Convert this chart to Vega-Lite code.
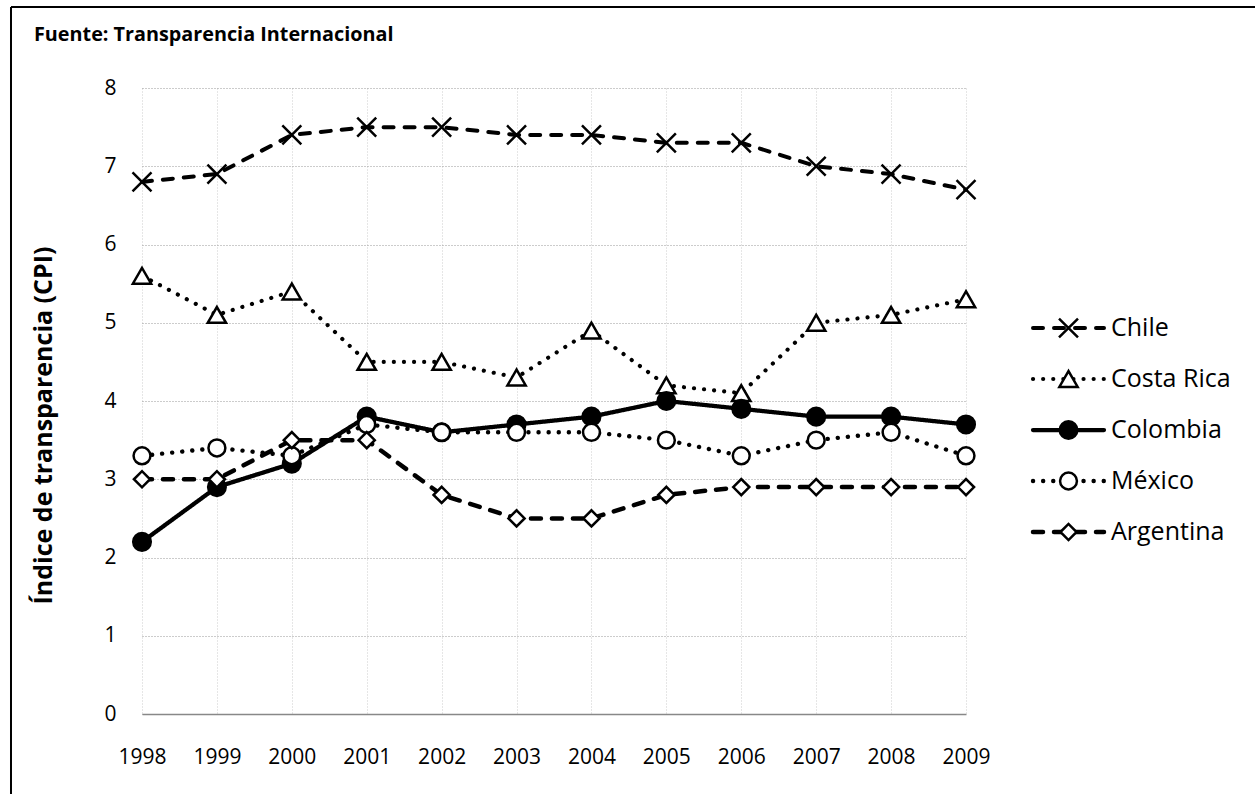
{
  "$schema": "https://vega.github.io/schema/vega-lite/v6.json",
  "padding": {"left": 9, "top": 6, "right": 0, "bottom": 0},
  "autosize": {"type": "pad"},
  "background": "white",
  "config": {
    "font": "Open Sans",
    "view": {"stroke": null},
    "axis": {"labelFont": "Open Sans", "labelFontSize": 21, "labelColor": "#000", "ticks": false, "tickSize": 0, "titleFont": "Open Sans", "titleColor": "#000", "labelFlush": false, "labelOverlap": false},
    "axisX": {"gridColor": "#cccccc", "gridDash": [1, 2], "gridWidth": 1, "domainColor": "#888888", "domainWidth": 1.5, "labelPadding": 32},
    "axisY": {"gridColor": "#999999", "gridDash": [1, 2], "gridWidth": 1, "domain": false, "labelPadding": 26}
  },
  "datasets": {
    "cpi": [
      {"year": 1998, "country": "Chile", "cpi": 6.8}, {"year": 1999, "country": "Chile", "cpi": 6.9}, {"year": 2000, "country": "Chile", "cpi": 7.4}, {"year": 2001, "country": "Chile", "cpi": 7.5}, {"year": 2002, "country": "Chile", "cpi": 7.5}, {"year": 2003, "country": "Chile", "cpi": 7.4}, {"year": 2004, "country": "Chile", "cpi": 7.4}, {"year": 2005, "country": "Chile", "cpi": 7.3}, {"year": 2006, "country": "Chile", "cpi": 7.3}, {"year": 2007, "country": "Chile", "cpi": 7.0}, {"year": 2008, "country": "Chile", "cpi": 6.9}, {"year": 2009, "country": "Chile", "cpi": 6.7},
      {"year": 1998, "country": "Costa Rica", "cpi": 5.6}, {"year": 1999, "country": "Costa Rica", "cpi": 5.1}, {"year": 2000, "country": "Costa Rica", "cpi": 5.4}, {"year": 2001, "country": "Costa Rica", "cpi": 4.5}, {"year": 2002, "country": "Costa Rica", "cpi": 4.5}, {"year": 2003, "country": "Costa Rica", "cpi": 4.3}, {"year": 2004, "country": "Costa Rica", "cpi": 4.9}, {"year": 2005, "country": "Costa Rica", "cpi": 4.2}, {"year": 2006, "country": "Costa Rica", "cpi": 4.1}, {"year": 2007, "country": "Costa Rica", "cpi": 5.0}, {"year": 2008, "country": "Costa Rica", "cpi": 5.1}, {"year": 2009, "country": "Costa Rica", "cpi": 5.3},
      {"year": 1998, "country": "Colombia", "cpi": 2.2}, {"year": 1999, "country": "Colombia", "cpi": 2.9}, {"year": 2000, "country": "Colombia", "cpi": 3.2}, {"year": 2001, "country": "Colombia", "cpi": 3.8}, {"year": 2002, "country": "Colombia", "cpi": 3.6}, {"year": 2003, "country": "Colombia", "cpi": 3.7}, {"year": 2004, "country": "Colombia", "cpi": 3.8}, {"year": 2005, "country": "Colombia", "cpi": 4.0}, {"year": 2006, "country": "Colombia", "cpi": 3.9}, {"year": 2007, "country": "Colombia", "cpi": 3.8}, {"year": 2008, "country": "Colombia", "cpi": 3.8}, {"year": 2009, "country": "Colombia", "cpi": 3.7},
      {"year": 1998, "country": "México", "cpi": 3.3}, {"year": 1999, "country": "México", "cpi": 3.4}, {"year": 2000, "country": "México", "cpi": 3.3}, {"year": 2001, "country": "México", "cpi": 3.7}, {"year": 2002, "country": "México", "cpi": 3.6}, {"year": 2003, "country": "México", "cpi": 3.6}, {"year": 2004, "country": "México", "cpi": 3.6}, {"year": 2005, "country": "México", "cpi": 3.5}, {"year": 2006, "country": "México", "cpi": 3.3}, {"year": 2007, "country": "México", "cpi": 3.5}, {"year": 2008, "country": "México", "cpi": 3.6}, {"year": 2009, "country": "México", "cpi": 3.3},
      {"year": 1998, "country": "Argentina", "cpi": 3.0}, {"year": 1999, "country": "Argentina", "cpi": 3.0}, {"year": 2000, "country": "Argentina", "cpi": 3.5}, {"year": 2001, "country": "Argentina", "cpi": 3.5}, {"year": 2002, "country": "Argentina", "cpi": 2.8}, {"year": 2003, "country": "Argentina", "cpi": 2.5}, {"year": 2004, "country": "Argentina", "cpi": 2.5}, {"year": 2005, "country": "Argentina", "cpi": 2.8}, {"year": 2006, "country": "Argentina", "cpi": 2.9}, {"year": 2007, "country": "Argentina", "cpi": 2.9}, {"year": 2008, "country": "Argentina", "cpi": 2.9}, {"year": 2009, "country": "Argentina", "cpi": 2.9}
    ]
  },
  "bounds": "flush",
  "spacing": 67,
  "hconcat": [
    {
      "width": 824,
      "height": 626,
      "title": {"text": "Fuente: Transparencia Internacional", "anchor": "start", "frame": "group", "dx": -108, "offset": -55, "baseline": "alphabetic", "font": "Open Sans", "fontSize": 19.8, "fontWeight": "bold", "color": "#000"},
      "layer": [
        {
          "data": {"values": [{}]},
          "mark": {"type": "rule", "stroke": "#000", "strokeWidth": 2},
          "encoding": {
            "x": {"datum": 1996.2512, "type": "quantitative", "scale": {"domain": [1998, 2009], "nice": false, "zero": false}, "title": null},
            "x2": {"datum": 2012.858},
            "y": {"datum": 9.0351, "type": "quantitative", "scale": {"domain": [0, 8], "nice": false}, "title": null}
          }
        },
        {
          "data": {"values": [{}]},
          "mark": {"type": "rule", "stroke": "#000", "strokeWidth": 2},
          "encoding": {
            "x": {"datum": 1996.2512, "type": "quantitative", "scale": {"domain": [1998, 2009], "nice": false, "zero": false}, "title": null},
            "y": {"datum": 9.0351, "type": "quantitative", "scale": {"domain": [0, 8], "nice": false}, "title": null},
            "y2": {"datum": -1.0224}
          }
        },
        {
          "data": {"name": "cpi"},
          "mark": {"type": "line", "strokeCap": "round", "strokeJoin": "round", "color": "#000"},
          "encoding": {
            "x": {"field": "year", "type": "quantitative", "scale": {"domain": [1998, 2009], "nice": false, "zero": false},
                  "axis": {"values": [1998, 1999, 2000, 2001, 2002, 2003, 2004, 2005, 2006, 2007, 2008, 2009], "format": "d", "title": null, "grid": true}},
            "y": {"field": "cpi", "type": "quantitative", "scale": {"domain": [0, 8], "nice": false},
                  "axis": {"values": [0, 1, 2, 3, 4, 5, 6, 7, 8], "format": "d", "title": "Índice de transparencia (CPI)", "titleFontSize": 25, "titleFontWeight": "bold", "titleX": -99, "titleY": 337, "titleAlign": "center", "titleBaseline": "middle", "grid": true}},
            "detail": {"field": "country", "type": "nominal"},
            "strokeDash": {"field": "country", "type": "nominal", "legend": null,
                           "scale": {"domain": ["Chile", "Costa Rica", "Colombia", "México", "Argentina"], "range": [[10, 11], [0.1, 10], [1, 0], [0.1, 10], [10, 11]]}},
            "strokeWidth": {"field": "country", "type": "nominal", "legend": null,
                            "scale": {"domain": ["Chile", "Costa Rica", "Colombia", "México", "Argentina"], "range": [4, 4.5, 5, 4.5, 4]}}
          }
        },
        {
          "data": {"name": "cpi"},
          "mark": {"type": "point", "stroke": "#000", "strokeWidth": 2.5, "opacity": 1, "fillOpacity": 1},
          "encoding": {
            "x": {"field": "year", "type": "quantitative", "scale": {"domain": [1998, 2009], "nice": false, "zero": false}},
            "y": {"field": "cpi", "type": "quantitative", "scale": {"domain": [0, 8], "nice": false}},
            "shape": {"field": "country", "type": "nominal", "legend": null,
                      "scale": {"domain": ["Chile", "Costa Rica", "Colombia", "México", "Argentina"], "range": ["M-1,-1L1,1M-1,1L1,-1", "triangle-up", "circle", "circle", "diamond"]}},
            "fill": {"field": "country", "type": "nominal", "legend": null,
                     "scale": {"domain": ["Chile", "Costa Rica", "Colombia", "México", "Argentina"], "range": ["#000000", "#ffffff", "#000000", "#ffffff", "#ffffff"]}},
            "size": {"field": "country", "type": "nominal", "legend": null,
                     "scale": {"domain": ["Chile", "Costa Rica", "Colombia", "México", "Argentina"], "range": [360, 260, 230, 270, 240]}}
          }
        }
      ]
    },
    {
      "width": 71,
      "height": 626,
      "data": {"name": "cpi"},
      "transform": [{"filter": "datum.year == 1998"}],
      "encoding": {
        "y": {"field": "country", "type": "nominal", "axis": null,
              "scale": {"type": "point", "domain": ["Chile", "Costa Rica", "Colombia", "México", "Argentina"], "padding": 0, "range": [240, 444]}}
      },
      "layer": [
        {
          "mark": {"type": "rule", "strokeCap": "round", "color": "#000"},
          "encoding": {
            "x": {"datum": 0, "type": "quantitative", "scale": {"domain": [0, 1]}, "axis": null},
            "x2": {"datum": 1},
            "strokeDash": {"field": "country", "type": "nominal", "legend": null,
                           "scale": {"domain": ["Chile", "Costa Rica", "Colombia", "México", "Argentina"], "range": [[10, 11], [0.1, 10], [1, 0], [0.1, 10], [10, 11]]}},
            "strokeWidth": {"field": "country", "type": "nominal", "legend": null,
                            "scale": {"domain": ["Chile", "Costa Rica", "Colombia", "México", "Argentina"], "range": [4, 4.5, 5, 4.5, 4]}}
          }
        },
        {
          "mark": {"type": "point", "stroke": "#000", "strokeWidth": 2.5, "opacity": 1, "fillOpacity": 1},
          "encoding": {
            "x": {"datum": 0.5, "type": "quantitative", "scale": {"domain": [0, 1]}, "axis": null},
            "shape": {"field": "country", "type": "nominal", "legend": null,
                      "scale": {"domain": ["Chile", "Costa Rica", "Colombia", "México", "Argentina"], "range": ["M-1,-1L1,1M-1,1L1,-1", "triangle-up", "circle", "circle", "diamond"]}},
            "fill": {"field": "country", "type": "nominal", "legend": null,
                     "scale": {"domain": ["Chile", "Costa Rica", "Colombia", "México", "Argentina"], "range": ["#000000", "#ffffff", "#000000", "#ffffff", "#ffffff"]}},
            "size": {"field": "country", "type": "nominal", "legend": null,
                     "scale": {"domain": ["Chile", "Costa Rica", "Colombia", "México", "Argentina"], "range": [360, 260, 230, 270, 240]}}
          }
        },
        {
          "mark": {"type": "text", "align": "left", "baseline": "middle", "dx": 7, "font": "Open Sans", "fontSize": 25, "color": "#000"},
          "encoding": {
            "x": {"datum": 1, "type": "quantitative", "scale": {"domain": [0, 1]}, "axis": null},
            "text": {"field": "country", "type": "nominal"}
          }
        }
      ]
    }
  ]
}
